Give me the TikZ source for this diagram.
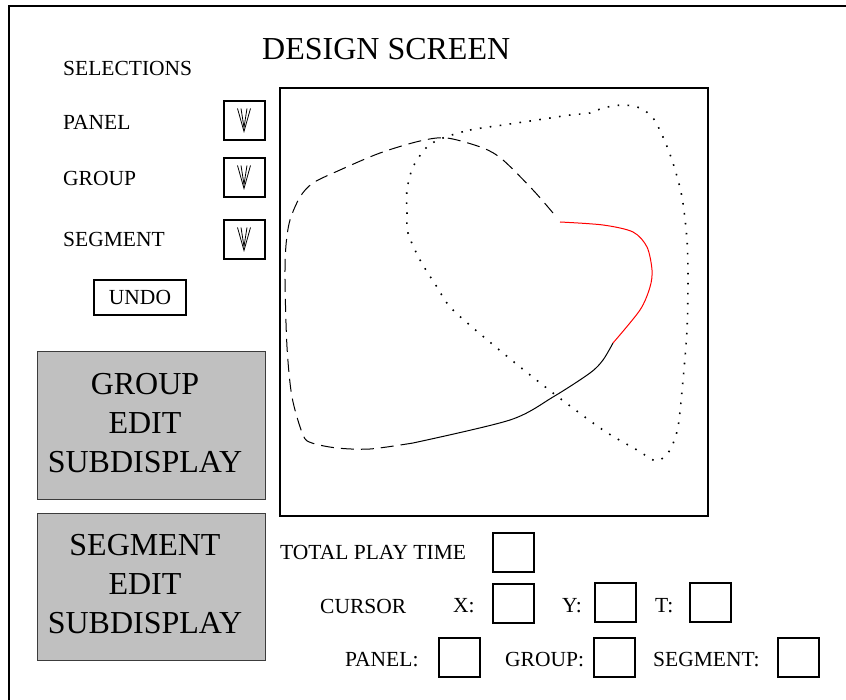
\documentclass[tikz,border=0pt]{standalone}
\usepackage{fontspec}
\setmainfont{Liberation Serif}
\usepackage{tikz}
\usetikzlibrary{calc}
\definecolor{panelgray}{RGB}{192,192,192}
\definecolor{edgegray}{RGB}{60,60,60}
\definecolor{segred}{RGB}{255,0,0}

\begin{document}
\begin{tikzpicture}[
  x=1pt,y=-1pt,
  lbl/.style={anchor=west,inner sep=0pt,font=\fontsize{21.5}{26}\selectfont},
  bigtxt/.style={font=\fontsize{32}{39}\selectfont},
  valbox/.style={draw,line width=2pt,minimum width=41pt,minimum height=39pt,inner sep=0pt},
  subdisp/.style={draw=edgegray,fill=panelgray,line width=1pt,minimum width=228pt,minimum height=147pt,inner sep=0pt},
  dashcurve/.style={line width=1pt,dash pattern=on 13pt off 7pt},
  dotcurve/.style={line width=1.6pt,dash pattern=on 1.6pt off 8.4pt},
]
\useasboundingbox (0,0) rectangle (846,700);
\draw[line width=2pt] (9,6) rectangle (880,730);

\node[bigtxt,anchor=west,inner sep=0pt] (title) at (262,49) {DESIGN SCREEN};

\node[lbl] (selections) at (63,68) {SELECTIONS};
\node[lbl] (panel) at (63,122) {PANEL};
\node[lbl] (group) at (63,178) {GROUP};
\node[lbl] (segment) at (63,239) {SEGMENT};
\node[valbox] (pdrop) at (244,120.5) {};
\node[valbox] (gdrop) at (244,177.5) {};
\node[valbox] (sdrop) at (244,239.5) {};
\foreach \b in {pdrop,gdrop,sdrop} {
  \draw[line width=0.8pt] ([shift={(-6.5,-12)}]\b.center) -- ([shift={(0,11)}]\b.center) -- ([shift={(6.5,-12)}]\b.center);
  \draw[line width=0.8pt] ([shift={(-3,-12)}]\b.center) -- ([shift={(0,7)}]\b.center) -- ([shift={(3,-12)}]\b.center);
}
\node[draw,line width=2pt,minimum width=92pt,minimum height=35pt,inner sep=0pt,font=\fontsize{21.5}{26}\selectfont] (undo) at (140,297.5) {UNDO};

\node[subdisp] (groupedit) at (151,425.5) {};
\node[bigtxt,align=center,inner sep=0pt] (groupedittxt) at (145,423) {GROUP\\EDIT\\SUBDISPLAY};
\node[subdisp] (segedit) at (151,587) {};
\node[bigtxt,align=center,inner sep=0pt] (segedittxt) at (145,584) {SEGMENT\\EDIT\\SUBDISPLAY};

\node[draw,line width=2.5pt,minimum width=428pt,minimum height=428pt,inner sep=0pt] (canvas) at (494,302) {};

\draw[dashcurve] plot[smooth] coordinates {(553,213) (533,190) (503,160) (483,148) (447,138) (420,141) (380,153) (340,170) (313,183) (300,197) (290,220) (286,245) (285,280) (287,347) (292,397) (303,435) (312,443) (337,448) (370,449) (413,443)};
\draw[line width=1pt] plot[smooth] coordinates {(413,443) (510,420) (553,397) (590,373) (603,360) (613,343)};
\draw[line width=1pt,segred] plot[smooth] coordinates {(613,343) (640,310) (650,287) (652,270) (647,247) (633,232) (603,225) (560,222)};
\draw[dotcurve] plot[smooth cycle] coordinates {(443,138) (470,130) (503,125) (537,120) (570,115) (590,113) (603,108) (623,105) (640,108) (653,118) (663,137) (673,163) (682,197) (687,240) (688,280) (687,330) (683,380) (678,427) (670,450) (660,460) (653,460) (637,450) (603,430) (553,393) (503,353) (453,310) (437,287) (420,260) (408,233) (407,213) (407,190) (413,167) (427,147)};

\node[lbl] (playtime) at (280,552.5) {TOTAL PLAY TIME};
\node[valbox] (ptbox) at (513.5,552) {};
\node[lbl] (cursor) at (320,606) {CURSOR};
\node[lbl] (xlbl) at (453,606) {X:};
\node[valbox] (xbox) at (513.5,603) {};
\node[lbl] (ylbl) at (562,606) {Y:};
\node[valbox] (ybox) at (615,602.5) {};
\node[lbl] (tlbl) at (655,606) {T:};
\node[valbox] (tbox) at (710.5,602.5) {};
\node[lbl] (panellbl) at (345,660) {PANEL:};
\node[valbox] (panelbox) at (459.5,657.5) {};
\node[lbl] (grouplbl) at (505,660) {GROUP:};
\node[valbox] (groupbox) at (614,657.5) {};
\node[lbl] (seglbl) at (653,660) {SEGMENT:};
\node[valbox] (segbox) at (798.5,657.5) {};
\end{tikzpicture}
\end{document}
